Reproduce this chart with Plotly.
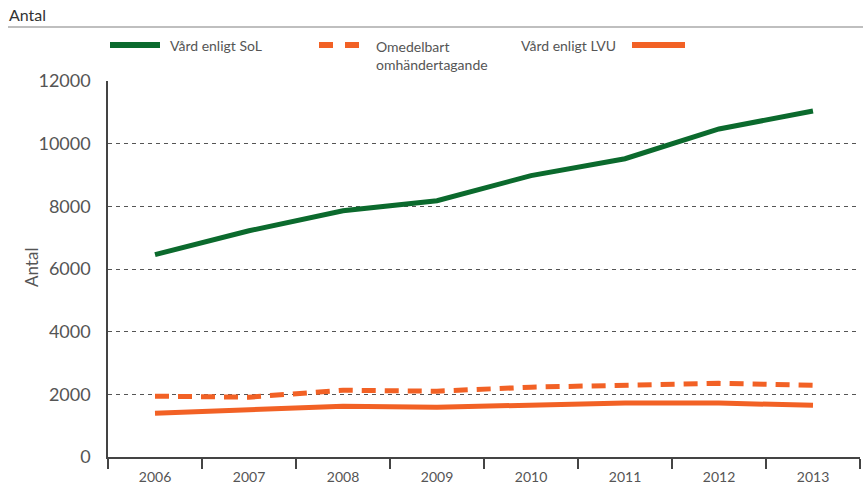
import plotly.graph_objects as go

years = ["2006", "2007", "2008", "2009", "2010", "2011", "2012", "2013"]
sol = [6460, 7220, 7860, 8180, 8980, 9520, 10470, 11040]
omedelbart = [1940, 1910, 2130, 2100, 2230, 2290, 2350, 2290]
lvu = [1400, 1530, 1620, 1590, 1650, 1720, 1720, 1650]
y_ticks = [0, 2000, 4000, 6000, 8000, 10000, 12000]

GREEN = "#0b6a2d"
ORANGE = "#f26125"
TEXT = "#555555"
FONT = "Lato"

W, H = 863, 489
L, R, T, B = 108, 860, 81, 457


def px(x):
    return (x - L) / (R - L)


def py(y):
    return (B - y) / (B - T)


fig = go.Figure()
fig.add_trace(go.Scatter(x=years, y=sol, mode="lines", line=dict(color=GREEN, width=5), name="Vård enligt SoL"))
fig.add_trace(go.Scatter(x=years, y=omedelbart, mode="lines", line=dict(color=ORANGE, width=5, dash="14px,9px"), name="Omedelbart omhändertagande"))
fig.add_trace(go.Scatter(x=years, y=lvu, mode="lines", line=dict(color=ORANGE, width=5), name="Vård enligt LVU"))

shapes = [
    dict(type="line", xref="paper", yref="paper", x0=px(8), x1=px(863), y0=py(27), y1=py(27),
         line=dict(color="#aaaaaa", width=1.5)),
    dict(type="line", xref="paper", yref="paper", x0=px(110), x1=px(160), y0=py(45), y1=py(45),
         line=dict(color=GREEN, width=6)),
    dict(type="line", xref="paper", yref="paper", x0=px(319), x1=px(359), y0=py(45), y1=py(45),
         line=dict(color=ORANGE, width=6, dash="14px,12px")),
    dict(type="line", xref="paper", yref="paper", x0=px(632), x1=px(685), y0=py(45), y1=py(45),
         line=dict(color=ORANGE, width=6)),
]

annotations = [
    dict(text="Antal", xref="paper", yref="paper", x=px(7), y=py(14), xanchor="left", yanchor="middle",
         showarrow=False, font=dict(family=FONT, size=16, color="#333333")),
    dict(text="Antal", xref="paper", yref="paper", x=px(31), y=py(268), xanchor="center", yanchor="middle",
         textangle=-90, showarrow=False, font=dict(family=FONT, size=17, color=TEXT)),
    dict(text="Vård enligt SoL", xref="paper", yref="paper", x=px(168), y=py(45), xanchor="left", yanchor="middle",
         showarrow=False, font=dict(family=FONT, size=14, color=TEXT)),
    dict(text="Omedelbart<br>omhändertagande", xref="paper", yref="paper", x=px(374), y=py(36),
         xanchor="left", yanchor="top", align="left",
         showarrow=False, font=dict(family=FONT, size=14, color=TEXT)),
    dict(text="Vård enligt LVU", xref="paper", yref="paper", x=px(519), y=py(45), xanchor="left", yanchor="middle",
         showarrow=False, font=dict(family=FONT, size=14, color=TEXT)),
]

fig.update_layout(
    width=W, height=H,
    margin=dict(l=L, r=W - R, t=T, b=H - B),
    paper_bgcolor="white", plot_bgcolor="white",
    showlegend=False,
    shapes=shapes,
    annotations=annotations,
    font=dict(family=FONT, color=TEXT),
    xaxis=dict(
        type="category", categoryorder="array", categoryarray=years,
        range=[-0.5, len(years) - 0.5],
        showgrid=False, showline=True, linecolor="#444444", linewidth=1.5,
        ticks="outside", tickson="boundaries", ticklen=10, tickcolor="#444444", tickwidth=1.5,
        ticklabelstandoff=6,
        tickfont=dict(family=FONT, size=14, color=TEXT),
        zeroline=False,
    ),
    yaxis=dict(
        range=[0, 12000], tickvals=y_ticks, ticktext=[str(v) for v in y_ticks],
        showgrid=True, gridcolor="#555555", griddash="4px,4px", gridwidth=1,
        showline=True, linecolor="#444444", linewidth=1.5,
        ticks="", ticklabelstandoff=12,
        tickfont=dict(family=FONT, size=18, color=TEXT),
        zeroline=False,
    ),
)

fig.write_html("out.html", config={"displayModeBar": False},
               post_script="document.body.style.margin='0';document.body.style.padding='0';")
